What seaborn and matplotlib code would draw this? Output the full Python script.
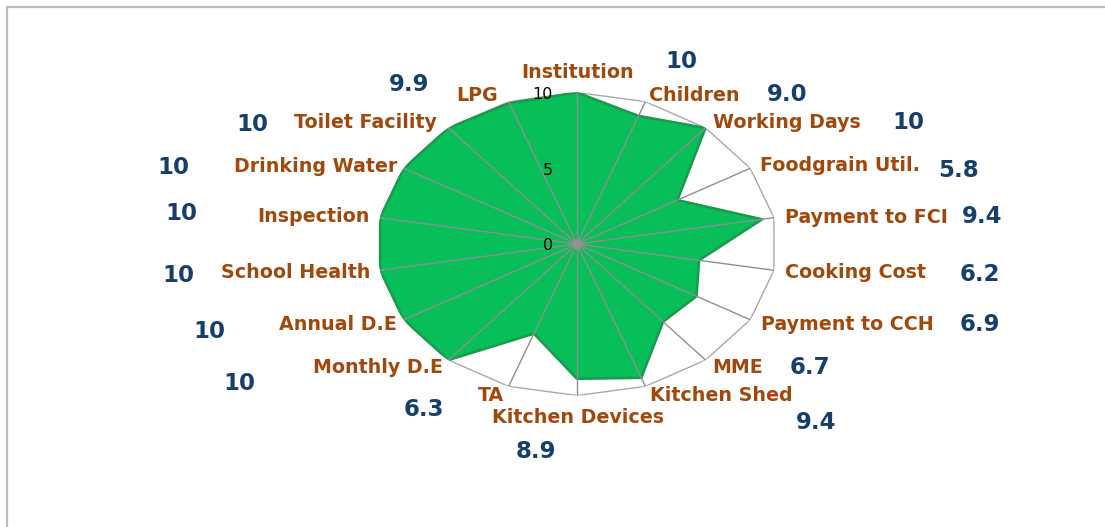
import matplotlib.pyplot as plt
import numpy as np
import seaborn as sns
from matplotlib.lines import Line2D

# Scores per indicator, clockwise from the top
categories = ["Institution", "Children", "Working Days", "Foodgrain Util.",
              "Payment to FCI", "Cooking Cost", "Payment to CCH", "MME",
              "Kitchen Shed", "Kitchen Devices", "TA", "Monthly D.E",
              "Annual D.E", "School Health", "Inspection", "Drinking Water",
              "Toilet Facility", "LPG"]
scores = [10, 9.0, 10, 5.8, 9.4, 6.2, 6.9, 6.7, 9.4, 8.9, 6.3,
          10, 10, 10, 10, 10, 10, 9.9]
score_text = ["10", "9.0", "10", "5.8", "9.4", "6.2", "6.9", "6.7", "9.4",
              "8.9", "6.3", "10", "10", "10", "10", "10", "10", "9.9"]
r_ticks = [0, 5, 10]

# label placement (pixel offsets from the outer ring at each spoke)
label_off = [(1, 20), (4, 6), (7, 5), (10, 3), (11, 0), (11, -2), (11, -5),
             (7, -7), (5, -9), (1, -22), (-4, -9), (-5, -7), (-7, -5),
             (-10, -2), (-10, 1), (-7, 2), (-12, 5), (-11, 6)]
label_ha = ["center"] + ["left"] * 8 + ["center"] + ["right"] * 8
value_off = [(104, 31), (142, 7), (203, 5), (208, -2), (208, 1), (206, -4),
             (230, -5), (104, -7), (171, -36), (-41, -56), (-85, -23),
             (-209, -23), (-194, -12), (-202, -5), (-199, 4), (-230, 1),
             (-196, 3), (-99, 17)]

sns.set_theme(style="white")

brown = "#A1480C"
navy = "#173F6E"
green = "#07BE58"

n = len(categories)
theta = np.deg2rad(np.arange(n) * 360 / n)
theta_c = np.append(theta, theta[0])
scores_c = np.append(scores, scores[0])

fig = plt.figure(figsize=(11.05, 5.27), dpi=100)
ax = fig.add_axes([377 / 1105, 131.5 / 527, 400 / 1105, 303 / 527],
                  projection="polar")
ax.set_aspect("auto")
ax.set_theta_zero_location("N")
ax.set_theta_direction(-1)
ax.set_ylim(0, 10)
ax.grid(False)
ax.set_xticks([])
ax.set_yticks([])
ax.spines["polar"].set_visible(False)
ax.patch.set_alpha(0)

# outer ring
ax.plot(theta_c, [10] * (n + 1), color="#A8A8A8", lw=1.0, zorder=1)

# filled series
ax.fill(theta_c, scores_c, color=green, zorder=2)
sns.lineplot(x=theta_c, y=scores_c, sort=False, estimator=None,
             color="#1A9A4C", lw=1.8, ax=ax, zorder=3)
ax.set_xlabel("")
ax.set_ylabel("")

# spokes
for t in theta:
    ax.plot([t, t], [0, 10], color="#8F8F8F", lw=1.0, zorder=4)
ax.plot([0], [0], marker="o", ms=6, color="#929292", zorder=5)

# radial tick labels
for r in r_ticks:
    ax.annotate(str(r), xy=(0, r), xytext=(-24, -2),
                textcoords="offset pixels", ha="right", va="center",
                fontsize=11.5, color="black", zorder=6)

# category labels
for t, name, (dx, dy), ha in zip(theta, categories, label_off, label_ha):
    ax.annotate(name, xy=(t, 10), xytext=(dx, dy),
                textcoords="offset pixels", ha=ha, va="center",
                fontsize=13.7, fontweight="bold", color=brown,
                annotation_clip=False)

# value labels
for t, txt, (dx, dy) in zip(theta, score_text, value_off):
    ax.annotate(txt, xy=(t, 10), xytext=(dx, dy),
                textcoords="offset pixels", ha="center", va="center",
                fontsize=16.5, fontweight="bold", color=navy,
                annotation_clip=False)

# chart frame (top and left edges)
fig.add_artist(Line2D([7 / 1105, 1], [1 - 7 / 527, 1 - 7 / 527],
                      transform=fig.transFigure, color="#BDBDBD", lw=1.6))
fig.add_artist(Line2D([7 / 1105, 7 / 1105], [0, 1 - 7 / 527],
                      transform=fig.transFigure, color="#BDBDBD", lw=1.6))

fig.savefig("out.png", dpi=100)
